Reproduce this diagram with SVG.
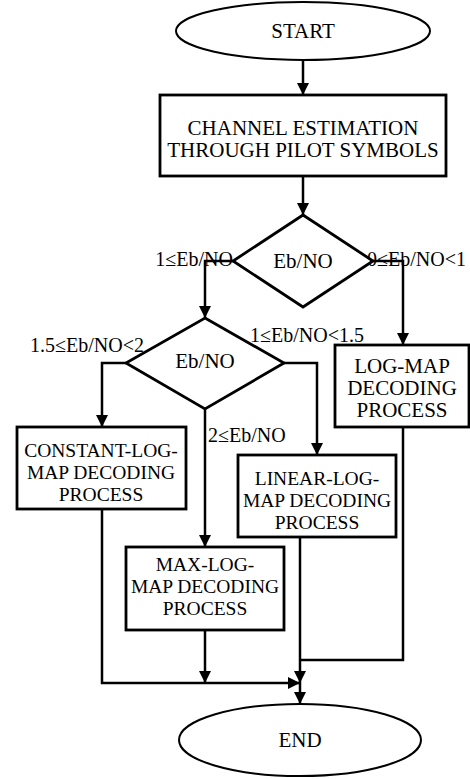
<svg xmlns="http://www.w3.org/2000/svg" width="470" height="779" viewBox="0 0 470 779">
<defs>
<marker id="ah" viewBox="0 0 12 12" refX="12" refY="6" markerWidth="12" markerHeight="12" markerUnits="userSpaceOnUse" orient="auto">
<path d="M0,0 L12,6 L0,12 Z" fill="#000"/>
</marker>
<style>
.s{fill:#fff;stroke:#000;stroke-width:2.8}
.e{fill:#fff;stroke:#000;stroke-width:2}
.t{font-size:21px;fill:#000;text-anchor:middle}
.m{font-size:19.5px}
.l{font-size:20px;fill:#000}
.c{fill:none;stroke:#000;stroke-width:2.5}
.a{marker-end:url(#ah)}
</style>
</defs>
<rect width="470" height="779" fill="#fff"/>
<g font-family="Liberation Serif, Times New Roman, DejaVu Serif, serif">
<g id="connectors">
<path class="c a" d="M303,60 V95"/>
<path class="c a" d="M303,176 V215"/>
<path class="c a" d="M233,261 H205 V318"/>
<path class="c a" d="M373,261 H403 V345"/>
<path class="c a" d="M126,363 H102 V427"/>
<path class="c a" d="M284,363 H317 V455"/>
<path class="c a" d="M205,409 V547"/>
<path class="c a" d="M102,509 V683 H300"/>
<path class="c a" d="M205,630 V683"/>
<path class="c a" d="M300,537 V683"/>
<path class="c" d="M403,427 V660 H300"/>
<path class="c a" d="M300,683 V704"/>
<text class="l" x="233" y="266" text-anchor="end">1≤Eb/NO</text>
<text class="l" x="367" y="266">0≤Eb/NO&lt;1</text>
<text class="l" x="30" y="352">1.5≤Eb/NO&lt;2</text>
<text class="l" x="250" y="342">1≤Eb/NO&lt;1.5</text>
<text class="l" x="208" y="442">2≤Eb/NO</text>
</g>
<g id="start">
<ellipse class="e" cx="303" cy="31" rx="127" ry="29"/>
<text class="t" x="303" y="38">START</text>
</g>
<g id="channel">
<rect class="s" x="160" y="95" width="286" height="81"/>
<text class="t" x="303" y="135">CHANNEL ESTIMATION</text>
<text class="t" x="303" y="157">THROUGH PILOT SYMBOLS</text>
</g>
<g id="dec1">
<polygon class="s" points="303,215 373,261 303,307 233,261"/>
<text class="t" x="303" y="268">Eb/NO</text>
</g>
<g id="dec2">
<polygon class="s" points="205,318 284,363 205,409 126,363"/>
<text class="t" x="205" y="368">Eb/NO</text>
</g>
<g id="logmap">
<rect class="s" x="335" y="345" width="134" height="82"/>
<text class="t" x="402" y="373">LOG-MAP</text>
<text class="t" x="402" y="395">DECODING</text>
<text class="t" x="402" y="417">PROCESS</text>
</g>
<g id="constant">
<rect class="s" x="17" y="427" width="169" height="82"/>
<text class="t m" x="101" y="457">CONSTANT-LOG-</text>
<text class="t m" x="101" y="479">MAP DECODING</text>
<text class="t m" x="101" y="501">PROCESS</text>
</g>
<g id="linear">
<rect class="s" x="238" y="455" width="158" height="82"/>
<text class="t m" x="317" y="485">LINEAR-LOG-</text>
<text class="t m" x="317" y="507">MAP DECODING</text>
<text class="t m" x="317" y="529">PROCESS</text>
</g>
<g id="maxlog">
<rect class="s" x="126" y="547" width="158" height="83"/>
<text class="t m" x="205" y="571">MAX-LOG-</text>
<text class="t m" x="205" y="593">MAP DECODING</text>
<text class="t m" x="205" y="615">PROCESS</text>
</g>
<g id="end">
<ellipse class="e" cx="300" cy="740" rx="121" ry="36"/>
<text class="t" x="300" y="747">END</text>
</g>
</g>
</svg>
